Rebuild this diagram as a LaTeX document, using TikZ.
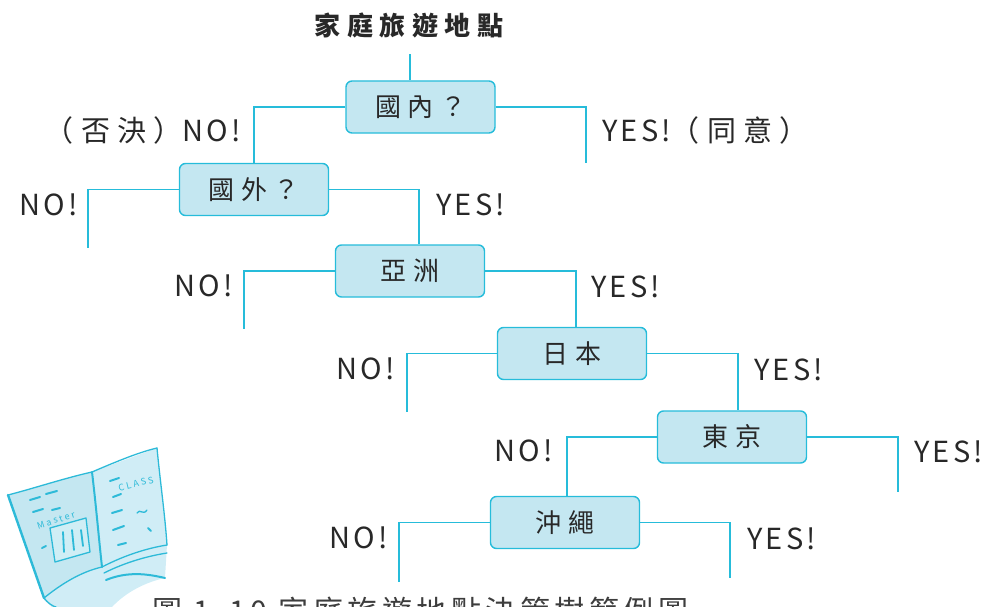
\documentclass[tikz,border=0pt]{standalone}
\usepackage{fontspec}
\setmainfont{Noto Sans CJK TC}[LetterSpace=25]
\newfontfamily\tightfont{Noto Sans CJK TC}[LetterSpace=11]
\newfontfamily\capfont{Noto Sans CJK TC}[LetterSpace=15]
\usepackage{tikz}
\usetikzlibrary{positioning, calc}
\definecolor{treeline}{RGB}{38,188,218}
\definecolor{boxfill}{RGB}{196,231,241}
\definecolor{inkgray}{RGB}{40,40,40}
\definecolor{bookline}{RGB}{45,186,216}
\definecolor{bookfill}{RGB}{208,237,246}
\tikzset{
  qbox/.style={rectangle, draw=treeline, fill=boxfill,
    minimum width=149pt, minimum height=52pt,
    font=\fontsize{26}{30}\selectfont, text=inkgray,
    rounded corners=6pt, line width=1.4pt},
  ans/.style={font=\fontsize{29}{32}\selectfont, text=inkgray, inner sep=0pt},
  rootlabel/.style={font=\fontsize{26}{30}\selectfont\bfseries, text=inkgray},
  caption/.style={font=\fontsize{30}{34}\capfont, text=inkgray!90, inner sep=0pt},
  link/.style={line width=1.6pt, color=treeline},
  pen/.style={line width=1.3pt, draw=bookline, line cap=round, line join=round}
}
\newcommand{\yes}{{\tightfont YES!}}
\newcommand{\no}{{\tightfont NO!}}

\begin{document}
\begin{tikzpicture}[x=1pt, y=-1pt]
  \useasboundingbox (0,0) rectangle (987,607);

  % Question boxes
  \node[rootlabel] (root) at (409,25) {家庭旅遊地點};
  \node[qbox] (home) at (420.5,107) {國內？};
  \node[qbox] (abroad) at (254,189.5) {國外？};
  \node[qbox] (asia) at (410,271) {亞洲};
  \node[qbox] (japan) at (572,353.5) {日本};
  \node[qbox] (tokyo) at (732,437) {東京};
  \node[qbox] (okinawa) at (565,522.5) {沖繩};

  % Loose ends of the branches
  \coordinate (homeyes) at (586,163);
  \coordinate (abroadno) at (88,248);
  \coordinate (asiano) at (244,329);
  \coordinate (japanno) at (407,412);
  \coordinate (tokyoyes) at (898,492);
  \coordinate (okinawano) at (399,582);
  \coordinate (okinawayes) at (730,578);

  % Branches
  \draw[link] ([xshift=1pt,yshift=-13pt]root.south) -- ([xshift=-10.5pt]home.north);
  \draw[link] (home.west) -| (abroad.north);
  \draw[link] (home.east) -| (homeyes);
  \draw[link] (abroad.west) -| (abroadno);
  \draw[link] (abroad.east) -| ([xshift=9pt]asia.north);
  \draw[link] (asia.west) -| (asiano);
  \draw[link] (asia.east) -| ([xshift=4pt]japan.north);
  \draw[link] (japan.west) -| (japanno);
  \draw[link] (japan.east) -| ([xshift=6pt]tokyo.north);
  \draw[link] (tokyo.west) -| ([xshift=2pt]okinawa.north);
  \draw[link] (tokyo.east) -| (tokyoyes);
  \draw[link] (okinawa.west) -| (okinawano);
  \draw[link] (okinawa.east) -| (okinawayes);

  % Answers
  \node[ans, anchor=east] (homenolbl) at (241,130) {（否決）\no};
  \node[ans, anchor=west] (homeyeslbl) at (602,130) {\yes（同意）};
  \node[ans, anchor=east] (abroadnolbl) at (78,205) {\no};
  \node[ans, anchor=west] (abroadyeslbl) at (436,205) {\yes};
  \node[ans, anchor=east] (asianolbl) at (233,286) {\no};
  \node[ans, anchor=west] (asiayeslbl) at (591,287) {\yes};
  \node[ans, anchor=east] (japannolbl) at (395,369) {\no};
  \node[ans, anchor=west] (japanyeslbl) at (754,370) {\yes};
  \node[ans, anchor=east] (tokyonolbl) at (553,451) {\no};
  \node[ans, anchor=west] (tokyoyeslbl) at (914,452) {\yes};
  \node[ans, anchor=east] (okinawanolbl) at (388,538) {\no};
  \node[ans, anchor=west] (okinawayeslbl) at (747,539) {\yes};

  % Open book sketch
  \fill[bookfill] (8,495) -- (44,600) -- (52,607) -- (112,607)
    .. controls (126,592) and (146,582) .. (165,578) -- (167,545)
    -- (157,448) -- (92,472) -- cycle;
  \fill[boxfill] (8,495) .. controls (35,488) and (65,478) .. (92,472)
    .. controls (96,505) and (99,540) .. (102,567)
    .. controls (80,572) and (60,585) .. (44,598) -- cycle;
  \draw[pen] (8,495) .. controls (35,488) and (65,478) .. (92,472);
  \draw[pen] (92,472) .. controls (120,460) and (140,452) .. (157,448);
  \draw[pen, line width=2.4pt] (8,495) -- (44,598);
  \draw[pen] (157,448) .. controls (160,480) and (165,515) .. (167,545);
  \draw[pen, line width=2pt] (92,472) .. controls (96,505) and (99,540) .. (102,567);
  \draw[pen] (102,567) .. controls (80,572) and (60,585) .. (44,598);
  \draw[pen] (102,567) .. controls (125,555) and (148,548) .. (167,545);
  \draw[pen] (104,573) .. controls (126,562) and (148,556) .. (167,553);
  \draw[pen, line width=2pt] (106,580) .. controls (128,571) and (148,574) .. (165,578);
  \draw[pen] (44,598) .. controls (48,603) and (52,606) .. (56,607);
  % text strokes on the pages
  \draw[pen, line width=2pt] (30,500) -- (40,497) (46,494) -- (57,491)
    (33,512) -- (43,509) (52,510) -- (60,508) (42,548) -- (46,546);
  \draw[pen, line width=2pt] (110,481) -- (119,478) (113,497) -- (121,494)
    (112,513) -- (122,510) (113,530) -- (124,526) (118,545) -- (126,543)
    (148,528) -- (151,531);
  \draw[pen] (137,513) .. controls (140,508) and (143,516) .. (147,510);
  % picture frame on the left page
  \draw[pen, fill=boxfill!60!bookline!40] (50,528) -- (86,518) -- (90,552) -- (55,562) -- cycle;
  \draw[pen, line width=1.8pt] (63,532) -- (64,552) (72,530) -- (74,550) (81,530) -- (83,546);
  \node[text=bookline, font=\fontsize{9}{9}\itshape, rotate=18] (master) at (56,520) {Master};
  \node[text=bookline, font=\fontsize{9}{9}\itshape, rotate=14] (classtxt) at (136,484) {CLASS};

  % Figure caption
  \node[caption, anchor=base west] (figcap) at (152,622) {圖 1-10 家庭旅遊地點決策樹範例圖};
\end{tikzpicture}
\end{document}
